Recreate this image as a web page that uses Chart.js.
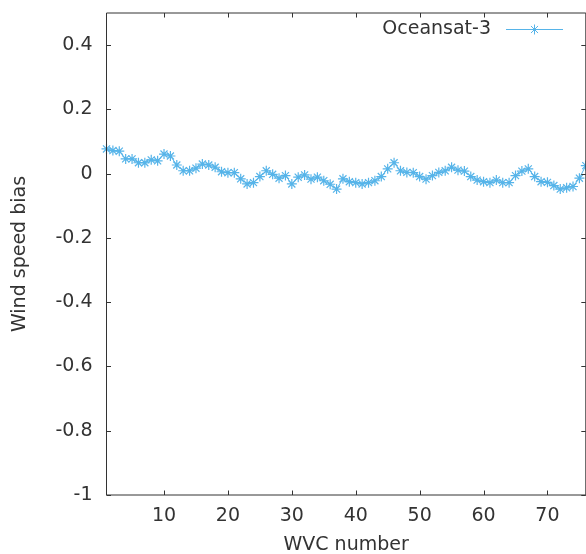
<!DOCTYPE html>
<html>
<head>
<meta charset="utf-8">
<script src="https://cdn.jsdelivr.net/npm/chart.js@4/dist/chart.umd.min.js"></script>
<style>
  html, body { margin: 0; padding: 0; background: #fff; overflow: hidden; }
  #wrap { position: relative; width: 592px; height: 554px; }
</style>
</head>
<body>
<div id="wrap"><canvas id="c" width="592" height="554"></canvas></div>
<script>
// Wind vector cell numbers across the swath
const wvcNumbers = [
  1, 2, 3, 4, 5, 6, 7, 8, 9, 10, 11, 12, 13, 14, 15, 16, 17, 18, 19, 20,
  21, 22, 23, 24, 25, 26, 27, 28, 29, 30, 31, 32, 33, 34, 35, 36, 37, 38, 39, 40,
  41, 42, 43, 44, 45, 46, 47, 48, 49, 50, 51, 52, 53, 54, 55, 56, 57, 58, 59, 60,
  61, 62, 63, 64, 65, 66, 67, 68, 69, 70, 71, 72, 73, 74, 75, 76
];

// Oceansat-3 wind speed bias per WVC (m/s)
const biasOceansat3 = [
  0.077, 0.072, 0.070, 0.046, 0.046, 0.034, 0.034, 0.043, 0.040, 0.061,
  0.055, 0.027, 0.009, 0.009, 0.017, 0.030, 0.027, 0.020, 0.006, 0.003,
  0.003, -0.016, -0.032, -0.028, -0.009, 0.009, -0.002, -0.014, -0.006, -0.032,
  -0.011, -0.004, -0.017, -0.011, -0.022, -0.033, -0.048, -0.016, -0.025, -0.028,
  -0.032, -0.028, -0.022, -0.009, 0.015, 0.034, 0.009, 0.004, 0.003, -0.009,
  -0.017, -0.006, 0.004, 0.009, 0.020, 0.011, 0.008, -0.009, -0.020, -0.025,
  -0.028, -0.020, -0.028, -0.028, -0.006, 0.008, 0.015, -0.009, -0.025, -0.027,
  -0.037, -0.048, -0.044, -0.040, -0.014, 0.025
];

const seriesLabel = 'Oceansat-3';
const xTickValues = [10, 20, 30, 40, 50, 60, 70];
const yTickValues = [-1, -0.8, -0.6, -0.4, -0.2, 0, 0.2, 0.4];

const ink = '#333333';
const seriesColor = '#56b4e9';
const fontFamily = '"DejaVu Sans", sans-serif';
const fontSize = 19;

// Box frame with inward tick marks mirrored on all four sides
const frameTicks = {
  id: 'frameTicks',
  afterDatasetsDraw(chart) {
    const { ctx, chartArea: a, scales } = chart;
    const len = 4.5;
    ctx.save();
    ctx.strokeStyle = ink;
    ctx.lineWidth = 1;
    ctx.beginPath();
    ctx.rect(a.left, a.top, a.right - a.left, a.bottom - a.top);
    for (const t of scales.x.ticks) {
      const px = Math.round(scales.x.getPixelForValue(t.value)) + 0.5;
      ctx.moveTo(px, a.bottom); ctx.lineTo(px, a.bottom - len);
      ctx.moveTo(px, a.top); ctx.lineTo(px, a.top + len);
    }
    for (const t of scales.y.ticks) {
      const py = Math.round(scales.y.getPixelForValue(t.value)) + 0.5;
      ctx.moveTo(a.left, py); ctx.lineTo(a.left + len, py);
      ctx.moveTo(a.right, py); ctx.lineTo(a.right - len, py);
    }
    ctx.stroke();
    ctx.restore();
  }
};

// Key in the top-right corner: label text followed by the line/point sample
const keyBox = {
  id: 'keyBox',
  afterDraw(chart) {
    const { ctx } = chart;
    const ds = chart.data.datasets[0];
    const y = 29;
    const textRight = 491;
    const lineStart = 506, lineEnd = 563;
    ctx.save();
    ctx.font = fontSize + 'px ' + fontFamily;
    ctx.fillStyle = ink;
    ctx.textAlign = 'right';
    ctx.textBaseline = 'middle';
    ctx.fillText(ds.label, textRight, y);
    ctx.strokeStyle = ds.borderColor;
    ctx.lineWidth = ds.borderWidth;
    ctx.beginPath();
    ctx.moveTo(lineStart, y + 0.5);
    ctx.lineTo(lineEnd, y + 0.5);
    ctx.stroke();
    Chart.helpers.drawPoint(ctx, {
      pointStyle: ds.pointStyle,
      radius: ds.pointRadius,
      borderWidth: ds.pointBorderWidth,
      rotation: 0
    }, (lineStart + lineEnd) / 2, y + 0.5);
    ctx.restore();
  }
};

new Chart(document.getElementById('c'), {
  type: 'line',
  data: {
    datasets: [{
      label: seriesLabel,
      data: wvcNumbers.map((w, i) => ({ x: w, y: biasOceansat3[i] })),
      borderColor: seriesColor,
      backgroundColor: seriesColor,
      borderWidth: 1,
      pointStyle: 'star',
      pointRadius: 5,
      pointBorderWidth: 1.2,
      pointBorderColor: seriesColor,
      tension: 0,
      fill: false,
      clip: false
    }]
  },
  options: {
    responsive: false,
    animation: false,
    events: [],
    layout: { padding: { top: 13, right: 4, left: 0, bottom: 0 } },
    plugins: {
      legend: { display: false },
      tooltip: { enabled: false }
    },
    scales: {
      x: {
        type: 'linear',
        min: 1,
        max: 76,
        afterBuildTicks(scale) { scale.ticks = xTickValues.map(v => ({ value: v })); },
        afterFit(scale) {
          scale.height = 59;
          scale.paddingLeft = 0;
          scale.paddingRight = 0;
        },
        grid: { display: false, drawTicks: false },
        border: { display: false },
        ticks: {
          color: ink,
          font: { family: fontFamily, size: fontSize },
          padding: 10,
          maxRotation: 0,
          autoSkip: false
        },
        title: {
          display: true,
          text: 'WVC number',
          color: ink,
          font: { family: fontFamily, size: fontSize },
          padding: { top: 0, bottom: -2.5 }
        }
      },
      y: {
        type: 'linear',
        min: -1,
        max: 0.5,
        afterBuildTicks(scale) { scale.ticks = yTickValues.map(v => ({ value: v })); },
        afterFit(scale) {
          scale.width = 106.5;
          scale.paddingTop = 0;
          scale.paddingBottom = 0;
        },
        grid: { display: false, drawTicks: false },
        border: { display: false },
        ticks: {
          color: ink,
          font: { family: fontFamily, size: fontSize },
          padding: 14,
          autoSkip: false,
          callback: v => String(Math.round(v * 10) / 10)
        },
        title: {
          display: true,
          text: 'Wind speed bias',
          color: ink,
          font: { family: fontFamily, size: fontSize },
          padding: { top: 9, bottom: 0 }
        }
      }
    }
  },
  plugins: [frameTicks, keyBox]
});
</script>
</body>
</html>
